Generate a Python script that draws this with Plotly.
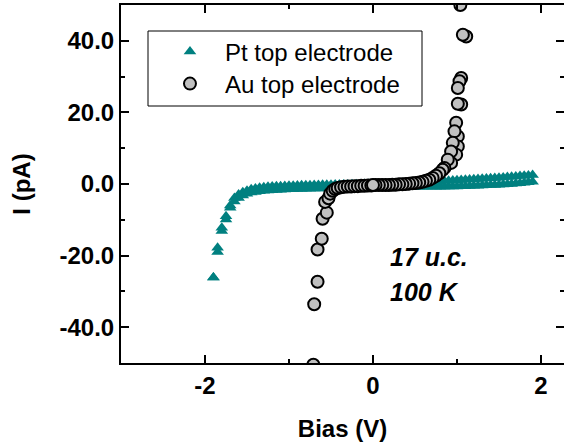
import plotly.graph_objects as go

# Pt top electrode: two bias sweeps on a common bias grid (V) and current (pA)
PT_BIAS = [
    -1.90, -1.85, -1.80, -1.75, -1.70, -1.65, -1.60, -1.55, -1.50, -1.45,
    -1.40, -1.35, -1.30, -1.25, -1.20, -1.15, -1.10, -1.05, -1.00, -0.95,
    -0.90, -0.85, -0.80, -0.75, -0.70, -0.65, -0.60, -0.55, -0.50, -0.45,
    -0.40, -0.35, -0.30, -0.25, -0.20, -0.15, -0.10, -0.05, 0.00, 0.05,
    0.10, 0.15, 0.20, 0.25, 0.30, 0.35, 0.40, 0.45, 0.50, 0.55,
    0.60, 0.65, 0.70, 0.75, 0.80, 0.85, 0.90, 0.95, 1.00, 1.05,
    1.10, 1.15, 1.20, 1.25, 1.30, 1.35, 1.40, 1.45, 1.50, 1.55,
    1.60, 1.65, 1.70, 1.75, 1.80, 1.85, 1.90,
]
PT_SWEEP_UP = [
    -26.1, -17.8, -12.2, -9.0, -6.0, -3.9, -2.9, -2.3, -1.9, -1.5,
    -1.25, -1.05, -0.9, -0.8, -0.72, -0.66, -0.6, -0.55, -0.5, -0.46,
    -0.42, -0.38, -0.35, -0.32, -0.29, -0.26, -0.24, -0.21, -0.19, -0.17,
    -0.15, -0.13, -0.11, -0.09, -0.07, -0.05, -0.03, -0.01, 0.01, 0.03,
    0.06, 0.09, 0.12, 0.16, 0.2, 0.25, 0.29, 0.33, 0.38, 0.44,
    0.51, 0.58, 0.65, 0.72, 0.78, 0.84, 0.9, 0.96, 1.03, 1.1,
    1.17, 1.24, 1.31, 1.38, 1.45, 1.53, 1.61, 1.69, 1.77, 1.85,
    1.93, 2.02, 2.11, 2.2, 2.3, 2.4, 2.5,
]
PT_SWEEP_DOWN = [
    -26.1, -19.0, -13.1, -9.9, -6.6, -4.9, -3.9, -3.2, -2.7, -2.4,
    -2.2, -2.0, -1.9, -1.8, -1.72, -1.66, -1.6, -1.55, -1.5, -1.46,
    -1.42, -1.38, -1.35, -1.32, -1.29, -1.26, -1.23, -1.2, -1.17, -1.14,
    -1.11, -1.08, -1.05, -1.02, -0.99, -0.96, -0.93, -0.9, -0.87, -0.86,
    -0.85, -0.84, -0.84, -0.83, -0.82, -0.81, -0.8, -0.8, -0.79, -0.78,
    -0.78, -0.77, -0.76, -0.76, -0.75, -0.74, -0.72, -0.7, -0.67, -0.64,
    -0.6, -0.56, -0.52, -0.47, -0.42, -0.37, -0.31, -0.25, -0.19, -0.12,
    -0.05, 0.03, 0.12, 0.22, 0.33, 0.46, 0.63,
]

# Au top electrode: negative branch toward 0 V, then positive branch back to 0 V
AU_BIAS = [
    -0.71, -0.70, -0.66, -0.66, -0.61, -0.60, -0.55, -0.57, -0.53, -0.51,
    -0.48, -0.45, -0.42, -0.38, -0.34, -0.30, -0.26, -0.22, -0.18, -0.14,
    -0.10, -0.06, -0.02,
    1.04, 1.11, 1.07, 1.05, 1.03, 1.01, 1.05, 1.01, 0.99, 1.01,
    0.97, 1.01, 0.95, 0.99, 0.93, 0.93, 0.89, 0.85, 0.83, 0.79,
    0.75, 0.71, 0.67, 0.63, 0.59, 0.55, 0.51, 0.47, 0.43, 0.39,
    0.35, 0.31, 0.27, 0.23, 0.19, 0.15, 0.11, 0.07, 0.03, 0.00,
]
AU_CURRENT = [
    -50.5, -33.6, -27.3, -18.3, -15.3, -9.7, -8.0, -5.0, -4.0, -2.7,
    -1.9, -1.4, -1.1, -0.9, -0.8, -0.7, -0.7, -0.6, -0.6, -0.5,
    -0.5, -0.4, -0.4,
    50.0, 41.2, 41.7, 29.6, 28.7, 26.8, 22.2, 22.4, 17.1, 13.3,
    14.7, 10.5, 11.5, 8.2, 9.1, 5.9, 6.8, 4.5, 4.0, 3.0,
    2.3, 1.7, 1.2, 0.9, 0.6, 0.4, 0.3, 0.2, 0.1, 0.0,
    -0.1, -0.1, -0.2, -0.2, -0.3, -0.3, -0.3, -0.3, -0.3, -0.3,
]

X_TICKS = [-2, 0, 2]
X_TICK_TEXT = ["-2", "0", "2"]
X_MINOR = [-3, -1, 1]
Y_TICKS = [-40, -20, 0, 20, 40]
Y_TICK_TEXT = ["-40.0", "-20.0", "0.0", "20.0", "40.0"]
Y_MINOR = [-30, -10, 10, 30]

FONT = "Liberation Sans, Arial, Helvetica, sans-serif"
TEAL = "#008080"
LABEL_FONT = dict(family=FONT, size=24, color="black", weight="bold")

fig = go.Figure()

fig.add_trace(go.Scatter(
    x=PT_BIAS + PT_BIAS,
    y=PT_SWEEP_UP + PT_SWEEP_DOWN,
    mode="markers",
    name="Pt top electrode",
    legend="legend",
    marker=dict(symbol="triangle-up", size=11, color=TEAL, line=dict(width=0)),
))

fig.add_trace(go.Scatter(
    x=AU_BIAS,
    y=AU_CURRENT,
    mode="markers",
    name="Au top electrode",
    legend="legend2",
    marker=dict(symbol="circle", size=12, color="#c0c0c0",
                line=dict(color="black", width=2)),
))

axis_common = dict(
    showline=True, linecolor="black", linewidth=2, mirror="ticks",
    ticks="inside", ticklen=8, tickwidth=2, tickcolor="black",
    showgrid=False, zeroline=False, automargin=False,
    tickfont=LABEL_FONT,
)

fig.update_xaxes(
    **axis_common,
    range=[-3, 2.274],
    tickmode="array", tickvals=X_TICKS, ticktext=X_TICK_TEXT,
    minor=dict(tickmode="array", tickvals=X_MINOR, ticks="inside",
               ticklen=4, tickwidth=2, tickcolor="black"),
    title=dict(text="Bias (V)", standoff=22, font=LABEL_FONT),
)
fig.update_yaxes(
    **axis_common,
    range=[-50, 50],
    tickmode="array", tickvals=Y_TICKS, ticktext=Y_TICK_TEXT,
    minor=dict(tickmode="array", tickvals=Y_MINOR, ticks="inside",
               ticklen=4, tickwidth=2, tickcolor="black"),
    title=dict(text="I (pA)", standoff=22, font=LABEL_FONT),
)

NOTE_FONT = dict(family=FONT, size=25, color="black", weight="bold", style="italic")
fig.add_annotation(
    x=0.18, y=-20.5, xref="x", yref="y", xanchor="left", yanchor="middle",
    text="17 u.c.", showarrow=False, font=NOTE_FONT,
)
fig.add_annotation(
    x=0.18, y=-30.2, xref="x", yref="y", xanchor="left", yanchor="middle",
    text="100 K", showarrow=False, font=NOTE_FONT,
)

# legend frame
fig.add_shape(
    type="rect", xref="paper", yref="paper",
    x0=(148 - 121) / 443, x1=(422 - 121) / 443,
    y0=1 - (106 - 5) / 358, y1=1 - (31 - 5) / 358,
    line=dict(color="black", width=1), fillcolor="white", layer="below",
)

legend_common = dict(
    xanchor="left", yanchor="middle",
    bgcolor="rgba(0,0,0,0)", borderwidth=0,
    font=dict(family=FONT, size=24, color="black"),
    itemwidth=60,
)

fig.update_layout(
    width=564, height=442,
    margin=dict(l=121, r=0, t=5, b=79, autoexpand=False),
    paper_bgcolor="white", plot_bgcolor="white",
    showlegend=True,
    legend=dict(x=0.0767, y=1 - (52 - 5) / 358, **legend_common),
    legend2=dict(x=0.0767, y=1 - (84 - 5) / 358, **legend_common),
)

fig.write_html("out.html")
